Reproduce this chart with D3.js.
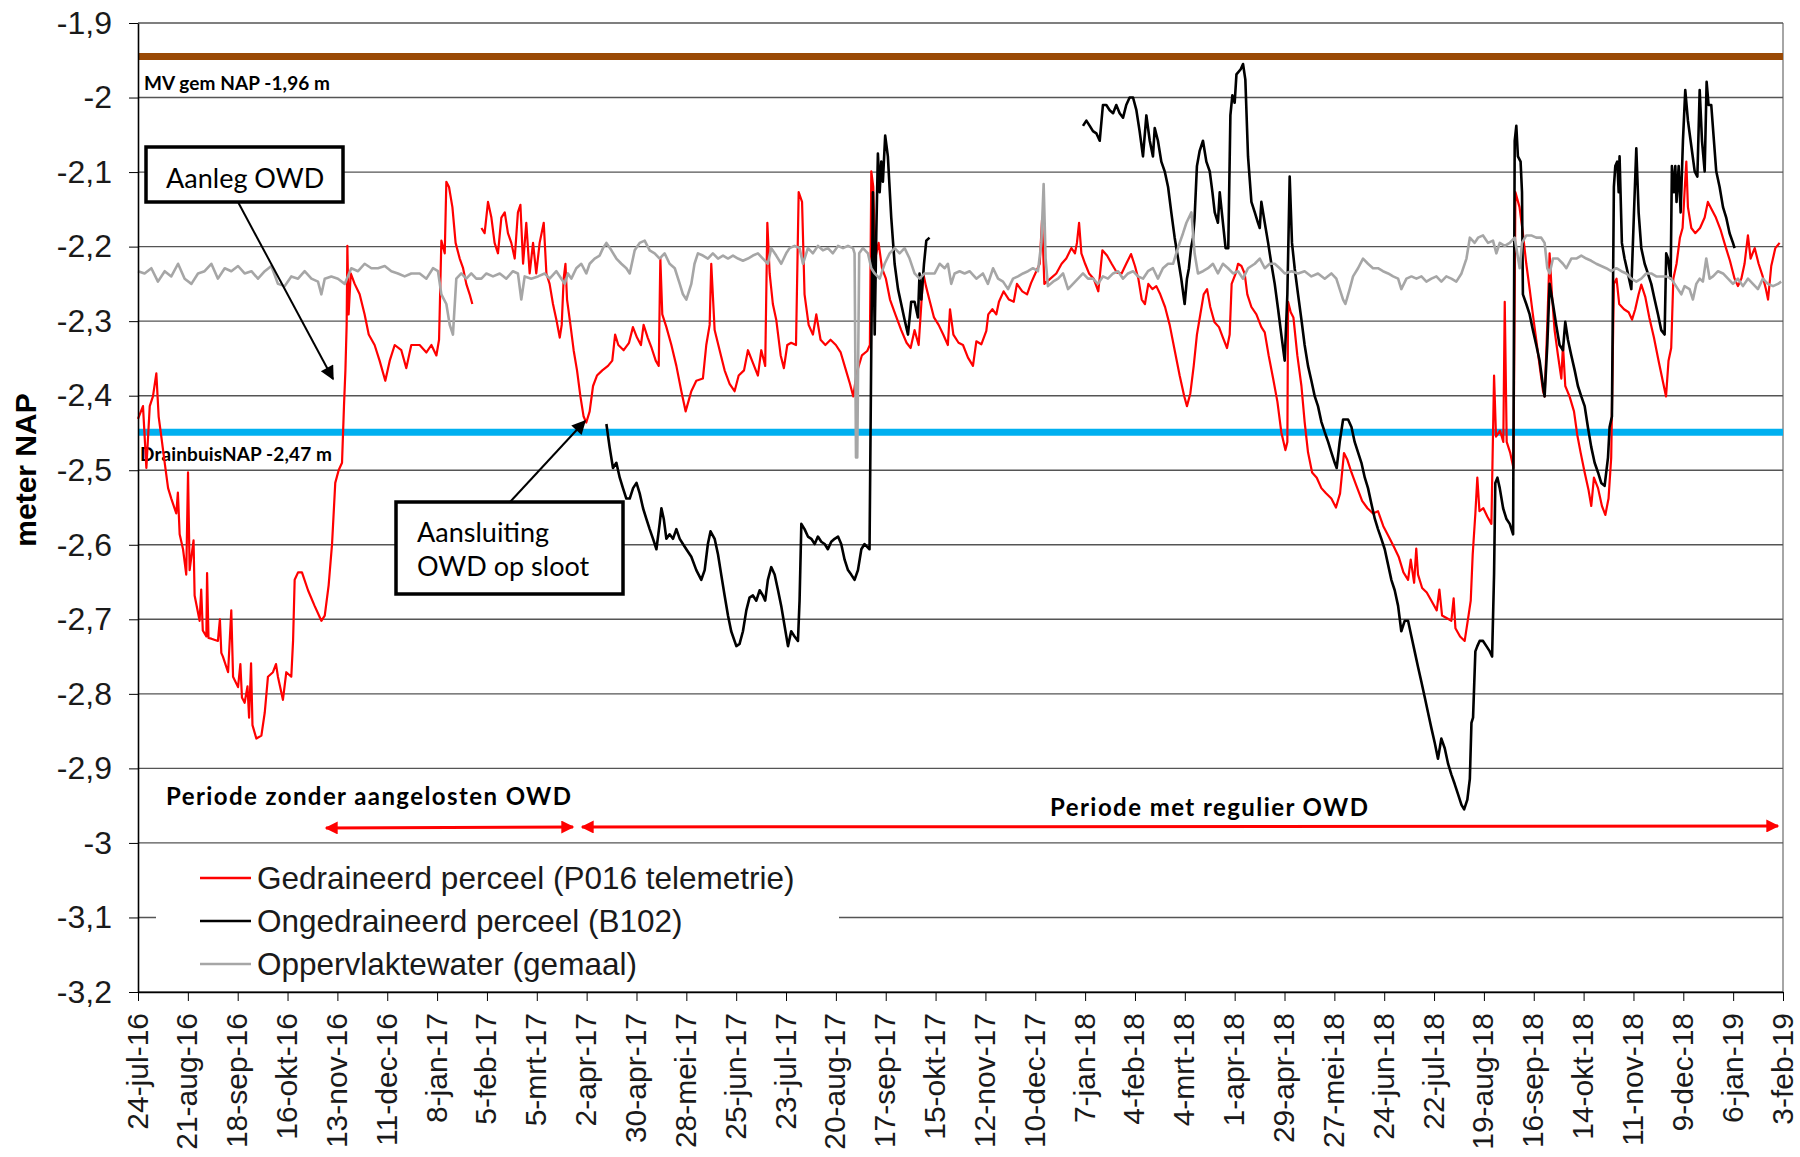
<!DOCTYPE html>
<html lang="nl">
<head>
<meta charset="utf-8">
<title>Grondwaterstand gedraineerd en ongedraineerd perceel</title>
<script src="https://d3js.org/d3.v7.min.js"></script>
<style>
  body { margin: 0; background: #fff; }
  .notitie { font-family: Lato, "Open Sans", sans-serif; }
</style>
</head>
<body>
<div id="grafiek"></div>
<script>
"use strict"

// x-as: elke 28 dagen
var tickLabels = ["24-jul-16","21-aug-16","18-sep-16","16-okt-16","13-nov-16","11-dec-16","8-jan-17","5-feb-17",
  "5-mrt-17","2-apr-17","30-apr-17","28-mei-17","25-jun-17","23-jul-17","20-aug-17","17-sep-17","15-okt-17",
  "12-nov-17","10-dec-17","7-jan-18","4-feb-18","4-mrt-18","1-apr-18","29-apr-18","27-mei-18","24-jun-18",
  "22-jul-18","19-aug-18","16-sep-18","14-okt-18","11-nov-18","9-dec-18","6-jan-19","3-feb-19"];

var yTicks = [-1.9,-2,-2.1,-2.2,-2.3,-2.4,-2.5,-2.6,-2.7,-2.8,-2.9,-3,-3.1,-3.2];

// referentieniveaus (m NAP, zoals getekend)
var maaiveld = -1.945;
var drainbuis = -2.449;

// metingen: [dagen sinds 24-jul-16, m NAP]
var gedraineerd = [
  [0,-2.431],[2.8,-2.414],[4.7,-2.497],[6.6,-2.414],[8.4,-2.401],[10.3,-2.370],[11.6,-2.428],[13.1,-2.455],[15,-2.490],[16.9,-2.524],
  [18.7,-2.538],[21.5,-2.558],[22.4,-2.530],[23.4,-2.586],[25.3,-2.606],[27.1,-2.640],[28.1,-2.503],[29,-2.634],[31.2,-2.594],[31.8,-2.668],
  [34.6,-2.702],[35.5,-2.660],[36.4,-2.715],[38.4,-2.723],[38.8,-2.638],[39.6,-2.725],[41.2,-2.726],[44.9,-2.729],[46,-2.700],[46.8,-2.745],
  [47.7,-2.750],[50.6,-2.771],[52.4,-2.688],[53.4,-2.777],[56.2,-2.791],[57.5,-2.760],[58.4,-2.805],[59.9,-2.812],[61.5,-2.790],[62.4,-2.832],
  [63.5,-2.759],[64.3,-2.842],[66.5,-2.860],[69.3,-2.856],[71.2,-2.825],[73,-2.777],[75.8,-2.771],[77.5,-2.760],[78.6,-2.777],[81.4,-2.808],
  [83.3,-2.771],[86.1,-2.777],[87.1,-2.729],[88,-2.647],
  [89.9,-2.637],[92.1,-2.637],[95.5,-2.661],[99.2,-2.682],[103,-2.702],[104.9,-2.695],[107.1,-2.654],[109,-2.599],[110.8,-2.517],[112.7,-2.500],
  [114.6,-2.490],[115.7,-2.414],[116.5,-2.366],[117.2,-2.305],[117.6,-2.199],[118.3,-2.291],[119.5,-2.236],[121.7,-2.250],[124.5,-2.264],[127.3,-2.291],
  [129.6,-2.318],[132.9,-2.332],[135.7,-2.353],[138.9,-2.380],[141.4,-2.353],[144.2,-2.332],[147.9,-2.339],[150.7,-2.363],[153.5,-2.332],
  [158.2,-2.332],[162,-2.342],[164.8,-2.332],[167.6,-2.346],[169.1,-2.325],[170.4,-2.192],[172.3,-2.209],[173.2,-2.113],[174.7,-2.120],[176.6,-2.147],
  [178.4,-2.195],[180.7,-2.216],[182.6,-2.229],[184.4,-2.250],[186.3,-2.264],[187.8,-2.277],[190,null],
  [192.9,-2.175],[194.7,-2.182],[196.6,-2.140],[198.5,-2.161],[200.3,-2.195],[202.2,-2.209],[204.1,-2.161],[206,-2.154],[207.8,-2.182],[209.7,-2.195],
  [211.6,-2.216],[213.4,-2.154],[214.8,-2.144],[216.3,-2.223],[218.1,-2.168],[220,-2.236],[221.9,-2.195],[223.7,-2.236],[225.6,-2.195],[227.9,-2.168],
  [229.4,-2.236],[231.2,-2.250],[233.1,-2.277],[235,-2.298],[236.9,-2.322],[238,-2.305],[239.1,-2.243],[240.1,-2.223],[241,-2.271],[242.9,-2.305],
  [244.7,-2.339],[246.6,-2.366],[248.5,-2.401],[250.3,-2.428],[251.8,-2.436],[253.7,-2.421],[255.6,-2.387],[257.8,-2.373],[260.8,-2.366],[264,-2.360],
  [266.4,-2.353],[268,-2.318],[269.8,-2.332],[272.8,-2.339],[275.8,-2.329],[278,-2.308],[280.3,-2.322],[282.5,-2.332],[284,-2.305],[286.3,-2.322],
  [288.5,-2.336],[290.8,-2.353],[292.5,-2.360],[293.4,-2.216],[294.5,-2.291],[296.8,-2.308],[299.6,-2.332],[302.4,-2.360],[305.2,-2.394],[307.6,-2.421],
  [310.8,-2.394],[313.6,-2.380],[317.3,-2.377],[319.2,-2.332],[321.1,-2.305],[322,-2.223],[323.9,-2.312],[326.7,-2.339],[329.5,-2.366],[332.3,-2.384],
  [335.1,-2.394],[337.4,-2.373],[340.4,-2.366],[342.6,-2.339],[345.4,-2.356],[348.2,-2.373],[350.1,-2.339],[352.3,-2.360],[353.5,-2.168],[354.8,-2.236],
  [356.6,-2.277],[358.5,-2.298],[361,-2.346],[362.8,-2.363],[364.7,-2.332],[366.9,-2.329],[369.6,-2.332],[371.1,-2.127],[373,-2.140],[374.4,-2.264],
  [376.7,-2.305],[379.1,-2.318],[381,-2.291],[383.4,-2.325],[386.1,-2.332],[389,-2.325],[392,-2.332],[394.7,-2.342],[397.3,-2.363],[399.9,-2.384],
  [401.8,-2.401],[403.6,-2.370],[406.6,-2.346],[409.6,-2.340],[411.1,-2.332],[411.9,-2.099],[413,-2.120],[414.1,-2.216],[416,-2.195],[417.9,-2.229],
  [420.1,-2.243],[422.4,-2.271],[425.4,-2.291],[428.7,-2.312],[431.7,-2.329],[434,-2.336],[436.2,-2.312],[438.5,-2.332],[440,-2.277],[441.1,-2.236],
  [442.6,-2.253],[444.5,-2.271],[447.1,-2.295],[449.7,-2.305],[452.3,-2.318],[454.9,-2.332],[456.1,-2.284],[458,-2.318],[460.9,-2.329],
  [463.4,-2.332],[466.2,-2.349],[469,-2.360],[470.9,-2.327],[473.7,-2.331],[476.5,-2.313],[477.6,-2.291],[479.9,-2.284],[482.1,-2.291],[483.6,-2.274],
  [486.2,-2.260],[489.2,-2.271],[491.9,-2.274],[493.7,-2.250],[496.7,-2.260],[499.4,-2.264],[501.6,-2.249],[504.2,-2.235],[506.5,-2.223],[507.8,-2.164],
  [509.1,-2.250],[512.5,-2.243],[515.8,-2.236],[518.8,-2.223],[521.4,-2.216],[524.3,-2.202],[526.3,-2.209],[527.4,-2.195],[528.6,-2.168],[529.9,-2.209],
  [532,-2.223],[534.2,-2.236],[536.8,-2.243],[539.4,-2.260],[541.7,-2.205],[544.3,-2.212],[546.9,-2.223],[549.9,-2.235],[552.5,-2.236],[555.1,-2.223],
  [557.8,-2.210],[560,-2.226],[561.9,-2.243],[563.8,-2.271],[565.6,-2.277],[567.5,-2.250],[569.8,-2.257],[572,-2.253],[574.2,-2.264],[576.9,-2.281],
  [579.5,-2.305],[582.3,-2.339],[585.1,-2.373],[587.7,-2.401],[589.2,-2.414],[591.1,-2.397],[593,-2.360],[594.8,-2.318],[596.7,-2.291],[598.6,-2.264],
  [600.5,-2.257],[602.3,-2.281],[604.6,-2.301],[607.2,-2.308],[609.4,-2.322],[611.7,-2.336],[613.2,-2.318],[614.3,-2.250],[616.6,-2.236],
  [617.9,-2.223],[619.8,-2.226],[621.6,-2.236],[623.1,-2.264],[625.4,-2.281],[628.2,-2.291],[631,-2.308],[632.9,-2.315],[635.1,-2.346],[637.6,-2.377],
  [640,-2.408],[642.2,-2.449],[644.5,-2.473],[645.6,-2.462],[646,-2.274],[647.5,-2.288],[649,-2.295],[651.2,-2.346],[653.5,-2.387],[655.3,-2.435],
  [657.2,-2.476],[659.5,-2.503],[662.1,-2.510],[664.7,-2.524],[667.3,-2.531],[670.3,-2.538],[672.9,-2.550],[675.2,-2.531],[677.4,-2.477],[679.3,-2.486],
  [681.6,-2.503],[684.4,-2.521],[687.6,-2.541],[690.6,-2.551],[693.7,-2.558],[696.5,-2.555],[699.5,-2.575],[702.5,-2.589],[705.5,-2.603],[708.1,-2.616],
  [710.8,-2.637],[713.4,-2.647],[714.9,-2.620],[716.8,-2.651],[718,-2.605],[719,-2.640],[721.3,-2.658],[723.9,-2.664],[726.5,-2.675],[729.5,-2.688],
  [731,-2.660],[732.5,-2.695],[735.5,-2.699],[737.7,-2.702],[739,-2.672],[740,-2.712],[742.6,-2.723],[745.2,-2.729],[747.1,-2.699],[748.6,-2.675],
  [749.7,-2.613],[751.2,-2.558],[752.3,-2.510],[753.5,-2.555],[755.7,-2.551],[757.9,-2.562],[760.2,-2.572],[761.7,-2.373],[762.8,-2.455],[765.1,-2.447],
  [766.9,-2.462],[767.7,-2.274],[768.8,-2.462],[770.7,-2.476],[772.6,-2.497],[773.7,-2.127],
  [776,-2.147],[777.9,-2.182],[779.8,-2.223],[781.7,-2.257],[783.5,-2.291],[785.4,-2.325],[787.3,-2.360],[789.2,-2.394],[790.1,-2.401],[791.6,-2.305],
  [792.9,-2.209],[794.2,-2.264],[795.7,-2.312],[797.6,-2.346],[799.5,-2.377],[800.4,-2.332],[801.7,-2.387],[804.1,-2.401],[806.6,-2.421],[808.4,-2.452],
  [810.3,-2.476],[812.6,-2.503],[814.8,-2.527],[816.3,-2.548],[817.8,-2.510],[820.1,-2.524],[822.3,-2.548],[824.2,-2.560],[826,-2.538],[827.5,-2.483],
  [829,-2.250],[830.5,-2.243],[832,-2.277],[834.7,-2.284],[837.3,-2.288],[839.2,-2.298],[841,-2.284],[842.9,-2.264],[844.4,-2.251],[846.6,-2.267],
  [848.9,-2.295],[851.5,-2.322],[854.1,-2.353],[856.8,-2.384],[858.3,-2.401],[859.7,-2.353],[861.2,-2.336],[862.4,-2.243],[864.2,-2.223],[866.1,-2.188],
  [867.6,-2.175],[868.7,-2.127],[869.7,-2.086],[870.6,-2.147],[872.5,-2.175],[874.7,-2.182],[877.4,-2.175],[880,-2.161],[881.8,-2.140],[884.1,-2.151],
  [886.3,-2.161],[889,-2.178],[891.6,-2.199],[894.2,-2.219],[896.8,-2.243],[898.7,-2.253],[900.6,-2.243],[902.4,-2.223],[904.3,-2.185],[905.8,-2.216],
  [908.1,-2.202],[910.3,-2.223],[912.6,-2.240],[914.4,-2.257],[915.6,-2.271],[917.4,-2.226],[919.7,-2.202],[922.1,-2.195]
];

var ongedraineerd = [
  [263.1,-2.438],[264.9,-2.469],[266.8,-2.497],[268.7,-2.490],[270.6,-2.510],[272.4,-2.524],[274.3,-2.538],[276.2,-2.538],[278.1,-2.524],[280,-2.517],
  [281.8,-2.531],[283.7,-2.551],[285.5,-2.565],[287.4,-2.579],[289.3,-2.592],[291.2,-2.606],[293,-2.572],[294,-2.551],[295.3,-2.565],[296.8,-2.592],
  [298.6,-2.586],[300.5,-2.592],[302.4,-2.579],[304.3,-2.592],[306.1,-2.599],[308,-2.606],[310.8,-2.616],
  [313.6,-2.634],[316.4,-2.647],[318.3,-2.634],[320.1,-2.599],[321.6,-2.582],[323.9,-2.592],[325.8,-2.613],[327.6,-2.640],[329.5,-2.668],[331.4,-2.695],
  [333.2,-2.716],[336.1,-2.736],[337.9,-2.733],[339.8,-2.716],[341.7,-2.688],[343.5,-2.671],[345.4,-2.668],[347.3,-2.675],[349.2,-2.661],[351,-2.668],
  [352.3,-2.675],[353.8,-2.647],[355.7,-2.630],[357.6,-2.640],[359.5,-2.661],[361.3,-2.682],[363.2,-2.709],[365.1,-2.736],[366.9,-2.716],[368.8,-2.723],
  [370.7,-2.729],[371.6,-2.675],[372.6,-2.572],[374.4,-2.579],[376.3,-2.589],[378.2,-2.592],[380.1,-2.599],[381.9,-2.589],[383.8,-2.596],[385.7,-2.599],
  [387.5,-2.606],[389.4,-2.596],[391.3,-2.592],[393.2,-2.589],[395,-2.599],[396.9,-2.620],[398.8,-2.634],[400.6,-2.640],[402.5,-2.647],[404.4,-2.634],
  [406.3,-2.606],[408.1,-2.599],[410.9,-2.606],[411.9,-2.332],[412.8,-2.127],[413.8,-2.318],[414.7,-2.182],[415.6,-2.075],[416.6,-2.127],[417.5,-2.086],
  [418.4,-2.113],[419.7,-2.051],[421.2,-2.079],[423.1,-2.161],[425,-2.223],[426.9,-2.257],[428.7,-2.277],[430.6,-2.298],[432.5,-2.318],[434.3,-2.274],
  [436.2,-2.274],[438.1,-2.295],[439,-2.236],[440,-2.271],[441.5,-2.223],[442.8,-2.192],[444.6,-2.188],[480,null],
  [530.8,-2.038],[532.7,-2.031],[534.6,-2.038],[536.4,-2.045],[538.3,-2.048],[540.2,-2.058],[542,-2.010],[543.9,-2.010],[545.8,-2.017],[547.7,-2.021],
  [549.5,-2.010],[551.4,-2.021],[553.3,-2.027],[555.1,-2.010],[557,-2.000],[558.9,-2.000],[560.8,-2.017],[562.6,-2.045],[564.5,-2.079],[566.4,-2.024],
  [568.3,-2.058],[570.1,-2.079],[571.1,-2.041],[572.9,-2.058],[574.8,-2.086],[576.7,-2.099],[578.6,-2.120],[580.4,-2.154],[582.3,-2.188],[584.2,-2.216],
  [586,-2.243],[587.9,-2.277],[589.2,-2.243],[590.3,-2.229],[591.5,-2.202],[592.6,-2.188],[593.5,-2.161],[594.8,-2.092],[596.3,-2.072],[598.2,-2.058],
  [600.1,-2.086],[602,-2.099],[603.5,-2.127],[604.8,-2.154],[606.6,-2.168],[607.6,-2.127],[609.1,-2.161],[610.9,-2.202],[612.4,-2.202],[613.6,-2.024],
  [614.7,-1.997],[616,-2.007],[617,-1.969],
  [619.4,-1.962],[620.7,-1.955],[622,-1.976],[623.5,-2.079],[625.4,-2.140],[627.3,-2.154],[629.1,-2.168],[630.1,-2.175],[631,-2.140],[632.9,-2.168],
  [634.8,-2.195],[636.6,-2.223],[638.5,-2.250],[640.4,-2.284],[642.2,-2.318],[644.1,-2.353],[645.6,-2.264],[646.9,-2.106],[648.2,-2.195],[649.7,-2.229],
  [651.6,-2.264],[653.5,-2.298],[655.3,-2.332],[657.2,-2.360],[659.1,-2.380],[661,-2.401],[662.8,-2.414],[664.7,-2.435],[666.6,-2.449],[668.5,-2.462],
  [670.3,-2.476],[672.2,-2.490],[673.3,-2.497],[675,-2.462],[676.9,-2.432],[679.7,-2.432],[681.6,-2.442],[683.4,-2.462],[685.3,-2.476],[687.2,-2.490],
  [689.1,-2.510],[690.9,-2.524],[692.8,-2.545],[694.7,-2.565],[696.5,-2.579],[698.4,-2.592],[700.3,-2.606],[702.2,-2.627],[704,-2.647],[705.9,-2.661],
  [707.8,-2.682],[709.6,-2.716],[711.5,-2.702],[713.4,-2.702],[715.3,-2.723],[717.1,-2.743],[719,-2.764],[720.9,-2.784],[722.8,-2.805],[724.6,-2.825],
  [726.5,-2.846],[728.4,-2.866],[730.2,-2.887],[732.1,-2.860],[734,-2.873],[735.9,-2.894],[737.7,-2.908],[739.6,-2.921],[741.5,-2.935],[743.4,-2.949],
  [744.9,-2.955],[746.7,-2.942],[748.1,-2.914],[749,-2.839],[749.9,-2.832],[751.2,-2.743],[752.3,-2.736],[753.6,-2.729],[755.5,-2.729],[757.4,-2.736],
  [759.3,-2.743],[760.6,-2.750],[761.7,-2.640],[762.4,-2.517],[763.6,-2.510],[764.9,-2.524],[766.8,-2.551],[768.6,-2.565],[770.5,-2.572],[772.4,-2.586],
  [773.3,-2.058],[774.2,-2.038],
  [775.1,-2.079],[776.6,-2.086],[777.4,-2.127],[777.9,-2.264],[779.8,-2.277],[781.7,-2.291],[783.5,-2.312],[785.4,-2.332],[787.3,-2.353],[789.2,-2.387],
  [790.1,-2.401],[791.6,-2.332],[792.9,-2.250],[794.8,-2.277],[796.6,-2.305],[798.5,-2.332],[800.4,-2.339],[801.7,-2.301],[803.2,-2.325],[805.1,-2.346],
  [807,-2.366],[808.8,-2.387],[810.7,-2.401],[812.6,-2.414],[814.4,-2.442],[816.3,-2.469],[818.2,-2.490],[820.1,-2.503],[821.9,-2.517],[823.8,-2.521],
  [825.7,-2.483],[826.6,-2.442],[827.9,-2.428],[829,-2.120],[829.8,-2.092],[830.9,-2.086],[831.7,-2.127],[832.2,-2.079],[833.5,-2.195],[835,-2.216],
  [836.9,-2.236],[838.8,-2.257],[840.3,-2.154],[841.6,-2.068],[842.9,-2.154],[844.4,-2.202],[846.3,-2.223],[848.1,-2.236],[850,-2.250],[851.9,-2.271],
  [853.8,-2.291],[855.6,-2.312],[857.5,-2.318],[858.4,-2.209],[859.4,-2.216],[860.9,-2.243],[861.6,-2.092],[862.7,-2.127],[863.5,-2.092],[864.2,-2.140],
  [865.4,-2.092],[866.5,-2.154],[867.8,-2.058],[869.1,-1.990],[870.6,-2.031],[872.5,-2.065],[874.4,-2.099],[875.9,-2.106],[877.2,-1.990],[878.5,-2.058],
  [880,-2.099],[881.1,-1.979],[882.2,-2.010],[883.7,-2.010],[885.2,-2.058],[886.5,-2.099],[888.4,-2.120],[890.3,-2.147],[892.1,-2.161],[894,-2.182],
  [895.9,-2.195],[896.8,-2.202]
];

var oppervlaktewater = [
  [0,-2.233],[3.7,-2.236],[7.5,-2.229],[11.2,-2.247],[15,-2.233],[18.7,-2.240],[22.5,-2.223],[26.2,-2.243],[30,-2.250],[33.7,-2.236],
  [37.4,-2.233],[41.2,-2.223],[44.9,-2.243],[48.7,-2.229],[52.4,-2.233],[56.2,-2.226],[59.9,-2.236],[63.7,-2.233],[67.4,-2.243],[71.2,-2.233],
  [74.9,-2.226],[78.6,-2.250],[82.4,-2.253],[86.1,-2.240],[89.9,-2.243],[93.6,-2.233],[97.4,-2.243],[101.1,-2.247],[103,-2.264],[104.9,-2.243],
  [108.6,-2.240],[112.3,-2.243],[116.1,-2.250],[119.8,-2.229],[123.6,-2.233],[127.3,-2.223],[131.1,-2.229],[134.8,-2.229],[138.6,-2.226],[142.3,-2.233],
  [146,-2.236],[149.8,-2.240],[153.5,-2.236],
  [158.2,-2.236],[162,-2.243],[165.7,-2.229],[168.5,-2.233],[170.4,-2.264],[173.2,-2.277],[175.1,-2.305],[176.9,-2.318],[178.8,-2.243],[181.6,-2.236],
  [184.4,-2.243],[187.2,-2.236],[190,-2.243],[192.9,-2.243],[195.7,-2.236],[199.4,-2.240],[203.2,-2.236],[206.9,-2.243],[210.6,-2.233],[213.4,-2.236],
  [215.3,-2.271],[217.2,-2.240],[220.9,-2.243],[224.7,-2.240],[228.4,-2.236],[231.2,-2.243],[235,-2.233],[237.8,-2.243],[239.7,-2.250],[241.5,-2.236],
  [243.4,-2.243],[246.2,-2.229],[249,-2.223],[251.8,-2.236],[253.7,-2.223],[256.5,-2.216],[259.3,-2.212],[261.2,-2.202],[263.1,-2.195],[265.9,-2.205],
  [268.7,-2.216],[271.5,-2.223],[274.3,-2.229],[276.2,-2.236],[279,-2.205],[281.8,-2.195],[284.6,-2.192],[287.4,-2.205],[290.2,-2.209],[293,-2.216],
  [295.8,-2.209],[298.6,-2.223],[301.5,-2.229],[304.3,-2.250],[306.1,-2.264],[308,-2.271],
  [310.8,-2.250],[312.6,-2.223],[314.5,-2.209],[317.3,-2.212],[320.1,-2.216],[322.9,-2.209],[325.8,-2.216],[328.6,-2.212],[331.4,-2.216],[334.2,-2.212],
  [337,-2.216],[339.8,-2.219],[342.6,-2.216],[345.4,-2.212],[348.2,-2.209],[351,-2.216],[353.8,-2.223],[355.7,-2.202],[358.5,-2.212],[361.3,-2.223],
  [364.1,-2.209],[366,-2.202],[368.8,-2.199],[371.6,-2.202],[373.5,-2.223],[376.3,-2.202],[379.1,-2.209],[381.9,-2.199],[384.7,-2.205],[387.5,-2.202],
  [390.3,-2.209],[393.2,-2.199],[396,-2.202],[398.8,-2.199],[401.6,-2.202],[402.5,-2.209],[403.3,-2.483],[404,-2.483],[405.1,-2.209],[407.2,-2.202],
  [410,-2.209],[411.9,-2.229],[413.8,-2.236],[416.6,-2.243],[419.4,-2.223],[422.2,-2.209],[425,-2.202],[427.8,-2.209],[430.6,-2.202],[433.4,-2.216],
  [436.2,-2.236],[439,-2.243],[441.8,-2.236],[444.6,-2.236],[447.5,-2.236],[450.3,-2.223],[453.1,-2.229],[454.9,-2.223],[456.8,-2.250],[458.7,-2.236],
  [461.5,-2.233],[464.3,-2.236],
  [467.1,-2.233],[470.9,-2.243],[474.6,-2.236],[477.4,-2.250],[480.3,-2.229],[483.1,-2.243],[485.9,-2.247],[488.7,-2.257],[491.5,-2.243],[494.3,-2.240],
  [497.1,-2.236],[499.9,-2.233],[502.7,-2.229],[505.5,-2.233],[507.4,-2.195],[508.7,-2.116],[509.8,-2.216],[511.1,-2.253],[514,-2.247],[516.8,-2.243],
  [519.6,-2.236],[522.4,-2.257],[525.2,-2.250],[528,-2.243],[530.8,-2.236],[533.6,-2.243],[536.4,-2.243],[539.2,-2.250],[542,-2.240],[544.8,-2.243],
  [547.7,-2.236],[550.5,-2.233],[553.3,-2.243],[556.1,-2.236],[558.9,-2.233],[561.7,-2.240],[564.5,-2.243],[567.3,-2.233],[570.1,-2.229],[572.9,-2.243],
  [575.7,-2.229],[578.6,-2.223],[581.4,-2.223],[583.2,-2.209],[585.1,-2.195],[587,-2.182],[588.9,-2.168],[591.7,-2.154],[593.5,-2.209],[595.4,-2.236],
  [598.2,-2.233],[601,-2.229],[603.8,-2.223],[606.6,-2.236],[609.4,-2.223],[612.3,-2.229],[615.1,-2.236],
  [617.9,-2.233],[620.7,-2.243],[623.5,-2.229],[627.3,-2.223],[630.1,-2.216],[632.9,-2.229],[635.7,-2.223],[638.5,-2.223],[641.3,-2.229],[644.1,-2.236],
  [647.9,-2.233],[651.6,-2.236],[655.3,-2.233],[659.1,-2.240],[662.8,-2.236],[666.6,-2.243],[670.3,-2.236],[673.1,-2.243],[675,-2.257],[676.9,-2.271],
  [678.2,-2.277],[680.6,-2.257],[682.5,-2.240],[685.3,-2.229],[688.1,-2.216],[690.9,-2.223],[693.7,-2.229],[696.5,-2.229],[699.3,-2.233],[702.2,-2.236],
  [705,-2.240],[707.8,-2.243],[709.6,-2.257],[712.5,-2.243],[715.3,-2.240],[718.1,-2.243],[720.9,-2.240],[723.7,-2.247],[726.5,-2.243],[729.3,-2.240],
  [732.1,-2.247],[734.9,-2.240],[737.7,-2.243],[740.5,-2.247],[743.4,-2.236],[746.2,-2.216],[748.1,-2.188],[750.8,-2.195],[752.7,-2.188],[755.5,-2.185],
  [758.3,-2.195],[761.1,-2.192],[763,-2.209],[764.9,-2.195],[767.7,-2.199],[770.5,-2.195],[773.3,-2.188],
  [776.1,-2.229],[777.4,-2.195],[779.8,-2.185],[782.6,-2.185],[785.4,-2.188],[788.2,-2.188],[790.1,-2.195],[791.6,-2.229],[792.9,-2.236],[794.8,-2.216],
  [797.6,-2.216],[800.4,-2.223],[802.3,-2.229],[805.1,-2.216],[807.9,-2.216],[810.7,-2.212],[813.5,-2.216],[816.3,-2.219],[819.1,-2.223],[821.9,-2.226],
  [824.7,-2.229],[827.5,-2.233],[830.4,-2.229],[833.2,-2.233],[836,-2.236],[838.8,-2.243],[841.6,-2.247],[844.4,-2.243],[847.2,-2.236],[850,-2.236],
  [852.8,-2.240],[855.6,-2.240],[858.4,-2.240],[861.2,-2.243],[863.1,-2.250],[865,-2.257],[866.9,-2.264],[868.7,-2.253],[871.5,-2.257],[873.4,-2.271],
  [875.3,-2.250],[877.2,-2.243],[879,-2.247],[880.9,-2.216],[882.8,-2.243],[884.7,-2.240],[887.5,-2.233],[890.3,-2.236],[893.1,-2.243],[895.9,-2.250],
  [898.7,-2.243],[901.5,-2.253],[904.3,-2.243],[907.1,-2.250],[909.9,-2.257],[912.7,-2.243],[915.5,-2.250],[918.4,-2.253],[921.2,-2.250],[923,-2.247]
];

var reeksen = [
  {naam: "Gedraineerd perceel (P016 telemetrie)", data: gedraineerd, kleur: "#ff0000", dikte: 2.2},
  {naam: "Ongedraineerd perceel (B102)", data: ongedraineerd, kleur: "#000000", dikte: 2.6},
  {naam: "Oppervlaktewater (gemaal)", data: oppervlaktewater, kleur: "#a6a6a6", dikte: 2.6}
];

var nl = d3.timeFormatLocale({
  dateTime: "%a %e %B %Y %X", date: "%d-%m-%Y", time: "%H:%M:%S", periods: ["AM", "PM"],
  days: ["zondag","maandag","dinsdag","woensdag","donderdag","vrijdag","zaterdag"],
  shortDays: ["zo","ma","di","wo","do","vr","za"],
  months: ["januari","februari","maart","april","mei","juni","juli","augustus","september","oktober","november","december"],
  shortMonths: ["jan","feb","mrt","apr","mei","jun","jul","aug","sep","okt","nov","dec"]
});
var leesDatum = nl.parse("%d-%b-%y");
var tickDatums = tickLabels.map(leesDatum);
var start = tickDatums[0];
function datum(dag) { return new Date(start.getTime() + dag * 864e5); }

var breedte = 1800, hoogte = 1157;
var links = 138, rechts = 1783, boven = 23, onder = 992;

var svg = d3.select("#grafiek").append("svg")
  .attr("width", breedte).attr("height", hoogte)
  .style("font-family", "'Liberation Sans', Arial, sans-serif");

var x = d3.scaleTime().domain([start, tickDatums[tickDatums.length - 1]]).range([links, rechts]);
var y = d3.scaleLinear().domain([-3.2, -1.9]).range([onder, boven]);

var defs = svg.append("defs");
function pijlpunt(id, kleur, l, b) {
  defs.append("marker").attr("id", id)
    .attr("viewBox", "0 0 10 10").attr("refX", 9).attr("refY", 5)
    .attr("markerUnits", "userSpaceOnUse").attr("markerWidth", l).attr("markerHeight", b)
    .attr("orient", "auto-start-reverse")
    .append("path").attr("d", "M0,0L10,5L0,10Z").attr("fill", kleur);
}
pijlpunt("pijlZwart", "#000", 16, 14);
pijlpunt("pijlRood", "#ff0000", 15, 13);

// rand en rasterlijnen
svg.append("line").attr("x1", rechts).attr("x2", rechts).attr("y1", boven).attr("y2", onder)
  .attr("stroke", "#a6a6a6").attr("stroke-width", 2);
svg.append("g").selectAll("line").data(yTicks).enter().append("line")
  .attr("x1", links).attr("x2", rechts)
  .attr("y1", d => y(d)).attr("y2", d => y(d))
  .attr("stroke", "#555").attr("stroke-width", 1.4);

// referentielijnen
svg.append("line").attr("x1", links).attr("x2", rechts)
  .attr("y1", y(maaiveld)).attr("y2", y(maaiveld))
  .attr("stroke", "#9a4a06").attr("stroke-width", 7);
svg.append("line").attr("x1", links).attr("x2", rechts)
  .attr("y1", y(drainbuis)).attr("y2", y(drainbuis))
  .attr("stroke", "#00b0f0").attr("stroke-width", 7);

svg.append("text").attr("class", "notitie").attr("x", 144).attr("y", 90)
  .attr("font-size", 19).attr("font-weight", "bold").attr("textLength", 186)
  .text("MV gem NAP -1,96 m");
svg.append("text").attr("class", "notitie").attr("x", 140).attr("y", 461)
  .attr("font-size", 19).attr("font-weight", "bold").attr("textLength", 192)
  .text("DrainbuisNAP -2,47 m");

// meetreeksen
var lijn = d3.line()
  .defined(d => d[1] !== null)
  .x(d => x(datum(d[0])))
  .y(d => y(d[1]));

svg.append("g").selectAll("path").data(reeksen).enter().append("path")
  .attr("d", d => lijn(d.data))
  .attr("fill", "none")
  .attr("stroke", d => d.kleur)
  .attr("stroke-width", d => d.dikte)
  .attr("stroke-linejoin", "round");

// assen
var yAs = svg.append("g").attr("transform", "translate(" + links + ",0)")
  .call(d3.axisLeft(y).tickValues(yTicks).tickSize(9).tickSizeOuter(0).tickPadding(17)
    .tickFormat(d => String(d).replace(".", ",")));
yAs.attr("font-family", null).attr("font-size", 32);
yAs.selectAll("text").attr("fill", "#1a1a1a");
yAs.select(".domain").attr("stroke", "#000").attr("stroke-width", 1.6);

var xAs = svg.append("g").attr("transform", "translate(0," + onder + ")")
  .call(d3.axisBottom(x).tickValues(tickDatums).tickSize(9).tickSizeOuter(0)
    .tickFormat((d, i) => tickLabels[i]));
xAs.attr("font-family", null).attr("font-size", 30);
xAs.selectAll("text")
  .attr("transform", "rotate(-90)")
  .attr("text-anchor", "end")
  .attr("x", -21).attr("y", 0).attr("dy", "0.3em")
  .attr("fill", "#1a1a1a");
xAs.select(".domain").attr("stroke", "#000").attr("stroke-width", 1.6);

svg.append("text")
  .attr("transform", "translate(36,470) rotate(-90)")
  .attr("text-anchor", "middle").attr("font-size", 30).attr("font-weight", "bold")
  .text("meter NAP");

// annotaties
svg.append("rect").attr("x", 146).attr("y", 147).attr("width", 197).attr("height", 55)
  .attr("fill", "#fff").attr("stroke", "#000").attr("stroke-width", 3.5);
svg.append("text").attr("class", "notitie").attr("x", 166).attr("y", 188)
  .attr("font-size", 27).text("Aanleg OWD");
svg.append("line").attr("x1", 238).attr("y1", 202).attr("x2", 333).attr("y2", 379)
  .attr("stroke", "#000").attr("stroke-width", 2).attr("marker-end", "url(#pijlZwart)");

svg.append("rect").attr("x", 396).attr("y", 502).attr("width", 227).attr("height", 92)
  .attr("fill", "#fff").attr("stroke", "#000").attr("stroke-width", 3.5);
svg.append("text").attr("class", "notitie").attr("x", 417).attr("y", 542)
  .attr("font-size", 27).text("Aansluiting");
svg.append("text").attr("class", "notitie").attr("x", 417).attr("y", 576)
  .attr("font-size", 27).text("OWD op sloot");
svg.append("line").attr("x1", 510).attr("y1", 502).attr("x2", 585).attr("y2", 421)
  .attr("stroke", "#000").attr("stroke-width", 2).attr("marker-end", "url(#pijlZwart)");

svg.append("text").attr("class", "notitie").attr("x", 166).attr("y", 805)
  .attr("font-size", 24).attr("font-weight", "bold").attr("textLength", 405)
  .text("Periode zonder aangelosten OWD");
svg.append("text").attr("class", "notitie").attr("x", 1050).attr("y", 816)
  .attr("font-size", 24).attr("font-weight", "bold").attr("textLength", 318)
  .text("Periode met regulier OWD");

svg.append("line").attr("x1", 326).attr("y1", 828).attr("x2", 573).attr("y2", 827)
  .attr("stroke", "#ff0000").attr("stroke-width", 3)
  .attr("marker-start", "url(#pijlRood)").attr("marker-end", "url(#pijlRood)");
svg.append("line").attr("x1", 582).attr("y1", 827).attr("x2", 1778).attr("y2", 826)
  .attr("stroke", "#ff0000").attr("stroke-width", 3)
  .attr("marker-start", "url(#pijlRood)").attr("marker-end", "url(#pijlRood)");

// legenda
var legenda = svg.append("g");
legenda.append("rect").attr("x", 156).attr("y", 850).attr("width", 683).attr("height", 136)
  .attr("fill", "#fff");
var item = legenda.selectAll("g").data(reeksen).enter().append("g")
  .attr("transform", (d, i) => "translate(0," + [878, 921, 964][i] + ")");
item.append("line").attr("x1", 200).attr("x2", 251)
  .attr("stroke", d => d.kleur).attr("stroke-width", 2.6);
item.append("text").attr("x", 257).attr("dy", "0.36em").attr("font-size", 31.5)
  .attr("fill", "#1a1a1a").text(d => d.naam);
</script>
</body>
</html>
